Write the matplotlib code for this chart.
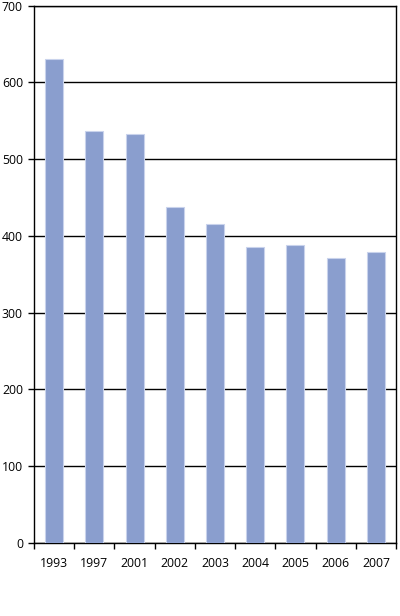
import matplotlib
matplotlib.use("Agg")
import matplotlib.pyplot as plt
import numpy as np

years = ["1993", "1997", "2001", "2002", "2003", "2004", "2005", "2006", "2007"]
values = [631, 537, 533, 438, 415, 386, 388, 371, 379]
yticks = [0, 100, 200, 300, 400, 500, 600, 700]

plt.rcParams['font.family'] = ['Open Sans', 'DejaVu Sans']
fig = plt.figure(figsize=(4.0, 6.16), dpi=100)
ax = fig.add_axes([0.085, 0.1185, 0.905, 0.8722])

x = np.arange(len(years))
ax.bar(x, values, width=0.45, color="#8A9ECE", edgecolor="#C9D3EC", linewidth=0.8, zorder=3)

ax.set_xlim(-0.5, len(years) - 0.5)
ax.set_ylim(0, 700)
ax.set_yticks(yticks)
ax.set_yticklabels([str(v) for v in yticks], fontsize=8.8)
ax.yaxis.grid(True, color="black", linewidth=1.0, zorder=0)
ax.set_axisbelow(True)

ax.set_xticks(x)
ax.set_xticklabels(years, fontsize=8.8)
ax.tick_params(axis='x', length=0, pad=10)
ax.set_xticks(np.arange(-0.5, len(years)), minor=True)
ax.tick_params(axis='x', which='minor', length=4, direction='out', width=1)
ax.tick_params(axis='y', length=4, direction='out', width=1, pad=4)

for s in ax.spines.values():
    s.set_color("black")
    s.set_linewidth(1.0)

fig.savefig("out.png", dpi=100)
